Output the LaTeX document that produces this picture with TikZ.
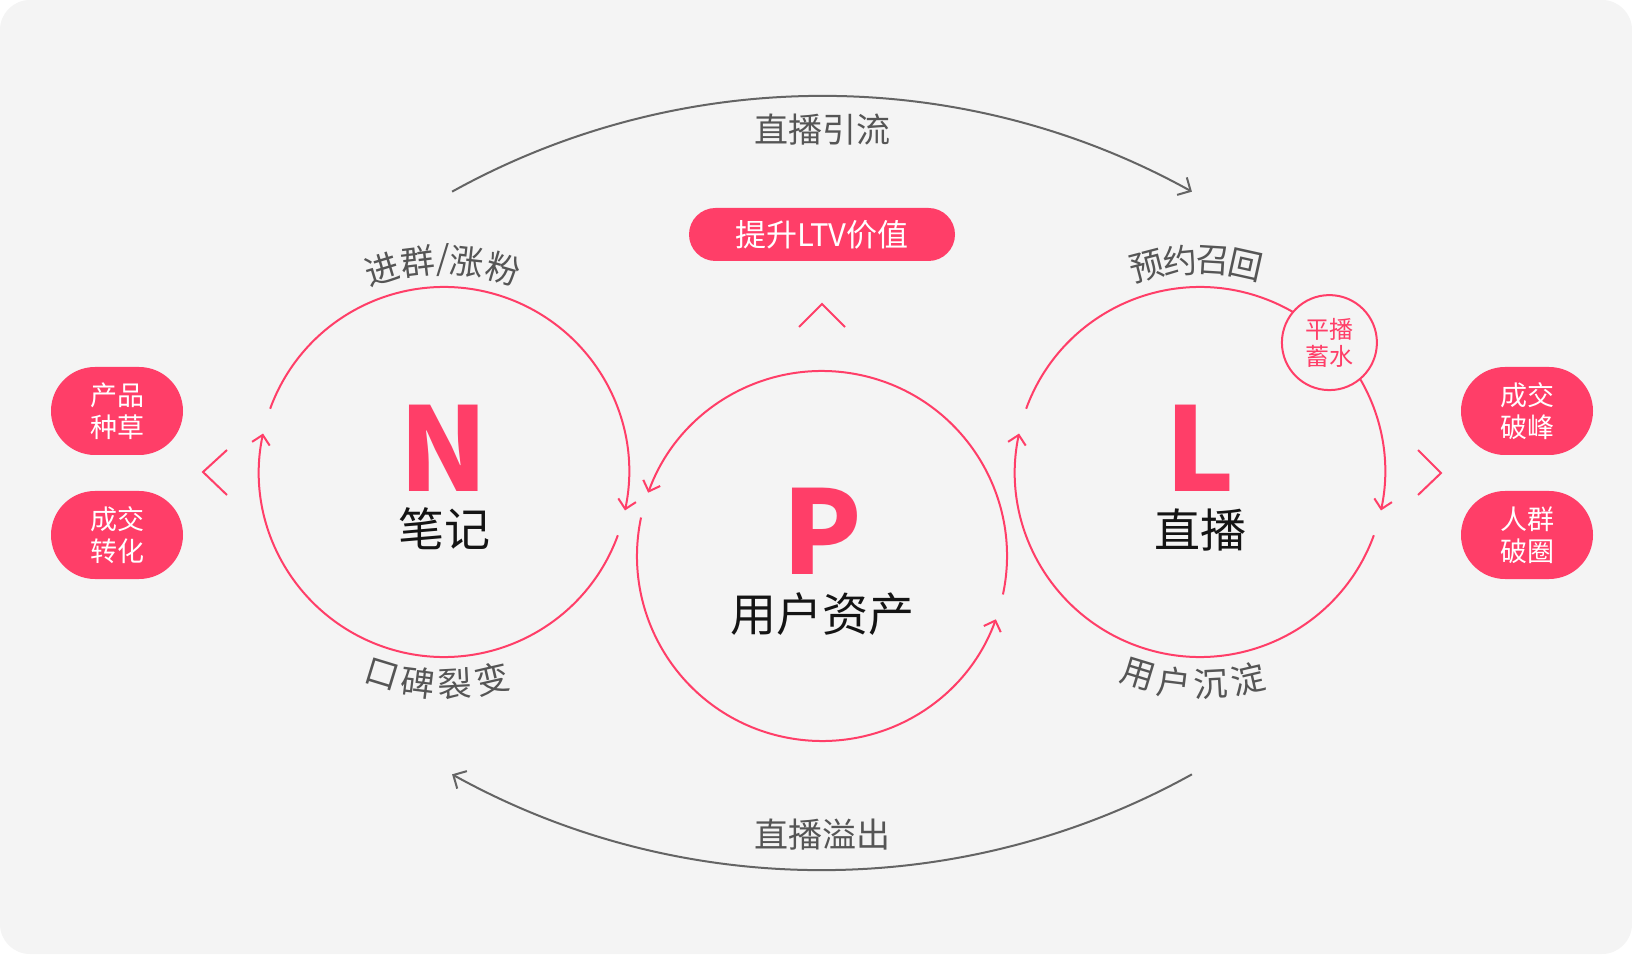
\documentclass[tikz,border=0pt]{standalone}
\usepackage{fontspec}
\setmainfont{Noto Sans CJK SC}
\usetikzlibrary{arrows.meta}
\definecolor{pk}{RGB}{255,62,104}
\definecolor{bgc}{RGB}{244,244,244}
\definecolor{gtx}{RGB}{85,85,85}
\definecolor{garc}{RGB}{100,100,100}
\definecolor{btx}{RGB}{20,20,20}
\begin{document}
\begin{tikzpicture}[x=1pt,y=1pt,
  pkarc/.style={draw=pk,line width=2pt,-{Straight Barb[length=9pt,width=18pt]}},
  grarc/.style={draw=garc,line width=2pt,-{Straight Barb[length=10pt,width=20pt]}},
  chev/.style={draw=pk,line width=2pt},
  pill/.style={fill=pk,rounded corners=44pt,minimum width=132pt,minimum height=88pt,inner sep=0pt,
    text=white,align=center,font=\fontsize{27}{32}\selectfont},
  bigletter/.style={text=pk,inner sep=0pt,font=\fontsize{116}{120}\selectfont\bfseries},
  bigword/.style={text=btx,inner sep=0pt,font=\fontsize{46}{50}\selectfont},
  clab/.style={text=gtx,inner sep=0pt,font=\fontsize{34}{38}\selectfont},
  glab/.style={text=gtx,inner sep=0pt,font=\fontsize{34}{38}\selectfont}
]
\useasboundingbox (0,0) rectangle (1632,954);
\fill[white] (0,0) rectangle (1632,954);
\fill[bgc,rounded corners=30pt] (0,0) rectangle (1632,954);

% centres
\coordinate (Nc) at (444,482);
\coordinate (Pc) at (822,398);
\coordinate (Lc) at (1200,482);
\coordinate (Tc) at (822,95);
\coordinate (Bc) at (822,847);

% big gray arcs
\draw[grarc] ([shift={(119:763)}]Tc) arc[start angle=119,end angle=61,radius=763];
\draw[grarc] ([shift={(-61:763)}]Bc) arc[start angle=-61,end angle=-119,radius=763];
\node[glab] (t1) at (822,824) {直播引流};
\node[glab] (t2) at (822,119) {直播溢出};

% N circle
\draw[pkarc] ([shift={(160:185)}]Nc) arc[start angle=160,end angle=-12,radius=185];
\draw[pkarc] ([shift={(-20:185)}]Nc) arc[start angle=-20,end angle=-192,radius=185];
% P circle
\draw[pkarc] ([shift={(-12:185)}]Pc) arc[start angle=-12,end angle=160,radius=185];
\draw[pkarc] ([shift={(168:185)}]Pc) arc[start angle=168,end angle=340,radius=185];
% L circle
\draw[pkarc] ([shift={(160:185)}]Lc) arc[start angle=160,end angle=-12,radius=185];
\draw[pkarc] ([shift={(-20:185)}]Lc) arc[start angle=-20,end angle=-192,radius=185];
\node[circle,draw=pk,line width=2pt,fill=bgc,minimum size=95pt,inner sep=0pt,text=pk,align=center,
  font=\fontsize{24}{27}\selectfont] (ps) at ([shift={(45:183)}]Lc) {平播\\蓄水};

% central texts
\node[bigletter] (nN) at (444,506) {N};
\node[bigword] (wN) at (444,425) {笔记};
\node[bigletter] (nP) at (822,423) {P};
\node[bigword] (wP) at (822,340) {用户资产};
\node[bigletter] (nL) at (1200,506) {L};
\node[bigword] (wL) at (1200,424) {直播};

% curved labels N top
\node[clab,rotate=17]   (a1) at ([shift={(107:212)}]Nc) {进};
\node[clab,rotate=7]    (a2) at ([shift={(97:212)}]Nc) {群};
\node[clab,rotate=0]    (a3) at ([shift={(90.3:212)}]Nc) {/};
\node[clab,rotate=-6.3] (a4) at ([shift={(83.7:212)}]Nc) {涨};
\node[clab,rotate=-16.3](a5) at ([shift={(73.7:212)}]Nc) {粉};
% N bottom
\node[clab,rotate=-17] (b1) at ([shift={(-107:212)}]Nc) {口};
\node[clab,rotate=-7]  (b2) at ([shift={(-97:212)}]Nc) {碑};
\node[clab,rotate=3]   (b3) at ([shift={(-87:212)}]Nc) {裂};
\node[clab,rotate=13]  (b4) at ([shift={(-77:212)}]Nc) {变};
% L top
\node[clab,rotate=14.5]  (c1) at ([shift={(104.5:212)}]Lc) {预};
\node[clab,rotate=5.5]   (c2) at ([shift={(95.5:212)}]Lc) {约};
\node[clab,rotate=-3.5]  (c3) at ([shift={(86.5:212)}]Lc) {召};
\node[clab,rotate=-12.5] (c4) at ([shift={(77.5:212)}]Lc) {回};
% L bottom
\node[clab,rotate=-17] (d1) at ([shift={(-107:212)}]Lc) {用};
\node[clab,rotate=-7]  (d2) at ([shift={(-97:212)}]Lc) {户};
\node[clab,rotate=3]   (d3) at ([shift={(-87:212)}]Lc) {沉};
\node[clab,rotate=13]  (d4) at ([shift={(-77:212)}]Lc) {淀};

% LTV pill
\node[fill=pk,rounded corners=26.5pt,minimum width=266pt,minimum height=53pt,inner sep=0pt,
  text=white,font=\fontsize{31}{34}\selectfont] (ltv) at (822,719.5) {提升LTV价值};

% chevrons
\coordinate (up1) at (799,627); \coordinate (up2) at (822,650); \coordinate (up3) at (845,627);
\draw[chev] (up1) -- (up2) -- (up3);
\coordinate (lf1) at (227,504); \coordinate (lf2) at (203,482); \coordinate (lf3) at (227,459);
\draw[chev] (lf1) -- (lf2) -- (lf3);
\coordinate (rt1) at (1418,504); \coordinate (rt2) at (1441,481); \coordinate (rt3) at (1418,459);
\draw[chev] (rt1) -- (rt2) -- (rt3);

% side pills
\node[pill] (p1) at (117,543) {产品\\种草};
\node[pill] (p2) at (117,419) {成交\\转化};
\node[pill] (p3) at (1527,543) {成交\\破峰};
\node[pill] (p4) at (1527,419) {人群\\破圈};
\end{tikzpicture}
\end{document}
